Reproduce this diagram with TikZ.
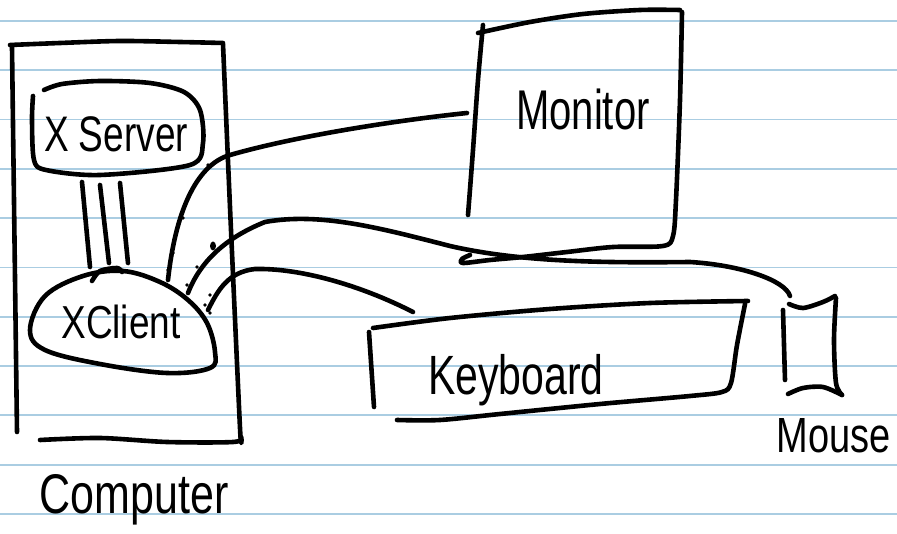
\documentclass[tikz,border=0pt]{standalone}
\usepackage{fontspec}
\setmainfont{Liberation Sans}
\definecolor{ruleblue}{RGB}{170,205,226}
\begin{document}
\begin{tikzpicture}[x=1pt,y=-1pt,line width=4.6pt,line cap=round,line join=round,
  ink/.style={draw=black,line width=4.6pt},
  paperline/.style={draw=ruleblue,line width=1.8pt,line cap=butt},
  lbl/.style={inner sep=0pt,anchor=base,text=black},
  speck/.style={fill=black,draw=none}]
\useasboundingbox (0,0) rectangle (897,534);
\fill[white] (0,0) rectangle (897,534);
\foreach \k in {0,...,10}
  \draw[paperline] (0,{21+49.3*\k}) -- (897,{21+49.3*\k});

% ---------- Computer box ----------
\draw[ink] plot[smooth] coordinates {(10,45) (60,43) (120,41) (180,42) (223,43)};
\draw[ink] (12,47) -- (17,432);
\draw[ink] plot[smooth,tension=0.5] coordinates {(223,44) (231,230) (240,428) (241,437) (233,442) (167,442) (100,438) (40,440)};

% ---------- X Server ----------
\draw[ink] plot[smooth] coordinates {(44,90) (62,84) (100,81) (150,83) (184,92) (200,110) (203,143) (190,165) (100,175) (46,170) (34,160) (32,120) (33,96)};
\node[lbl] (xserver) at (116,152) {\scalebox{1}[1.35]{\fontsize{37}{40}\selectfont X Server}};

% ---------- X Client ----------
\draw[ink] plot[smooth cycle,tension=0.6] coordinates {(30,330) (45,296) (83,276) (123,271) (160,282) (188,300) (207,323) (215,352) (210,368) (167,373) (100,364) (45,350)};
\draw[ink] plot[smooth] coordinates {(92,281) (100,271) (117,268) (122,272)};
\node[lbl] (xclient) at (121,339) {\scalebox{1}[1.25]{\fontsize{37}{40}\selectfont XClient}};

% connectors X Server -> X Client
\coordinate (xs1) at (82,182);  \coordinate (xc1t) at (90,267);
\coordinate (xs2) at (100,185); \coordinate (xc2t) at (109,263);
\coordinate (xs3) at (120,183); \coordinate (xc3t) at (128,263);
\draw[ink] (xs1) -- (xc1t);
\draw[ink] (xs2) -- (xc2t);
\draw[ink] (xs3) -- (xc3t);

% ---------- Monitor ----------
\draw[ink] plot[smooth] coordinates {(483,25) (478,80) (473,150) (468,215)};
\draw[ink] plot[smooth] coordinates {(478,33) (530,22) (583,14) (640,10) (680,10)};
\draw[ink] plot[smooth,tension=0.5] coordinates {(682,12) (680,100) (676,200) (673,236) (663,246) (613,247) (567,252) (523,257) (490,260) (463,263) (462,259) (470,255)};
\node[lbl] (monitor) at (583,130) {\scalebox{1}[1.4]{\fontsize{40}{42}\selectfont Monitor}};

% ---------- Keyboard ----------
\draw[ink] (369,332) -- (374,407);
\draw[ink] plot[smooth] coordinates {(373,328) (450,318) (550,309) (650,303) (748,301)};
\draw[ink] plot[smooth,tension=0.5] coordinates {(745,304) (737,345) (731,383) (722,392) (690,396) (600,404) (500,414) (440,420) (397,420)};
\node[lbl] (keyboard) at (516,395) {\scalebox{1}[1.35]{\fontsize{41}{44}\selectfont Keyboard}};

% ---------- Mouse ----------
\draw[ink] (783,310) -- (785,380);
\draw[ink] plot[smooth] coordinates {(789,304) (803,308) (823,302) (835,296)};
\draw[ink] plot[smooth] coordinates {(836,298) (834,340) (836,383) (842,395)};
\draw[ink] plot[smooth] coordinates {(788,394) (803,388) (823,387) (842,395)};
\node[lbl] (mouse) at (834,452) {\scalebox{1}[1.3]{\fontsize{38}{40}\selectfont Mouse}};

% ---------- Computer label ----------
\node[lbl] (computer) at (134,513) {\scalebox{1}[1.3]{\fontsize{43}{46}\selectfont Computer}};

% ---------- cables ----------
\coordinate (xcmon) at (168,280);
\coordinate (xcmouse) at (188,293);
\coordinate (xckey) at (208,310);
\coordinate (monin) at (467,113);
\coordinate (mousein) at (790,296);
\coordinate (keyin) at (413,312);

\draw[ink] (xcmon) .. controls (175,215) and (195,165) .. (230,155)
                   .. controls (300,135) and (400,120) .. (monin);
\draw[ink] (xcmouse) .. controls (200,262) and (225,238) .. (265,222)
                     .. controls (320,212) and (380,228) .. (450,246)
                     .. controls (520,262) and (600,263) .. (690,262)
                     .. controls (740,265) and (785,280) .. (mousein);
\draw[ink] (xckey) .. controls (218,290) and (228,272) .. (255,269)
                   .. controls (300,268) and (360,285) .. (keyin);

% specks along the cables
\foreach \p in {(208,165),(183,218),(173,253),(168,270),(197,267),(187,285),(210,295),(205,305),(210,313)}
  \fill[speck] \p circle (1.8);
\fill[speck] (213,246) ellipse (3 and 4.5);
\end{tikzpicture}
\end{document}
